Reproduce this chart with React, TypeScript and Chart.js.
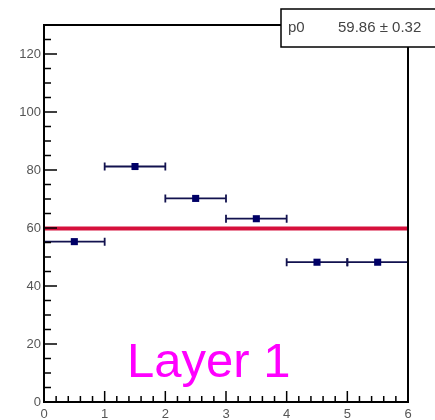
import { useEffect, useRef } from 'react';
import { Chart, registerables } from 'chart.js';

Chart.register(...registerables);

// ---- data ----
const binLow = [0, 1, 2, 3, 4, 5];
const binHigh = [1, 2, 3, 4, 5, 6];
const binValues = [55.3, 81.2, 70.2, 63.2, 48.2, 48.2];
const fitP0 = 59.86;
const fitRange = [0, 6];
const xTickValues = [0, 1, 2, 3, 4, 5, 6];
const yTickValues = [0, 20, 40, 60, 80, 100, 120];
const statsLabel = 'p0';
const statsValue = '59.86 ± 0.32';
const layerTitle = 'Layer 1';

const X_MIN = 0;
const X_MAX = 6;
const Y_MIN = 0;
const Y_MAX = 130;

const FONT = "'Liberation Sans', Arial, sans-serif";

const rootDecor = {
  id: 'rootDecor',
  beforeDraw(chart: any) {
    const ctx = chart.ctx;
    ctx.save();
    ctx.fillStyle = '#ffffff';
    ctx.fillRect(0, 0, chart.width, chart.height);
    ctx.restore();
  },
  beforeDatasetsDraw(chart: any) {
    const ctx = chart.ctx;
    const xs = chart.scales.x;
    const ys = chart.scales.y;
    ctx.save();
    ctx.strokeStyle = '#12124f';
    ctx.lineWidth = 1.8;
    for (let i = 0; i < binValues.length; i++) {
      const xl = xs.getPixelForValue(binLow[i]);
      const xh = xs.getPixelForValue(binHigh[i]);
      const y = ys.getPixelForValue(binValues[i]);
      ctx.beginPath();
      ctx.moveTo(xl, y);
      ctx.lineTo(xh, y);
      ctx.moveTo(xl, y - 4);
      ctx.lineTo(xl, y + 4);
      ctx.moveTo(xh, y - 4);
      ctx.lineTo(xh, y + 4);
      ctx.stroke();
    }
    ctx.restore();
  },
  afterDraw(chart: any) {
    const ctx = chart.ctx;
    const xs = chart.scales.x;
    const ys = chart.scales.y;
    const a = chart.chartArea;
    ctx.save();
    // frame
    ctx.strokeStyle = '#000000';
    ctx.lineWidth = 2;
    ctx.strokeRect(a.left, a.top, a.right - a.left, a.bottom - a.top);
    // y ticks (inward)
    ctx.lineWidth = 1.5;
    ctx.beginPath();
    for (let i = 0; i * 5 <= Y_MAX; i++) {
      const v = i * 5;
      const len = v % 20 === 0 ? 13 : 7;
      const py = ys.getPixelForValue(v);
      ctx.moveTo(a.left, py);
      ctx.lineTo(a.left + len, py);
    }
    // x ticks (inward)
    for (let i = 0; i <= 30; i++) {
      const v = i * 0.2;
      const len = i % 5 === 0 ? 11 : 6;
      const px = xs.getPixelForValue(v);
      ctx.moveTo(px, a.bottom);
      ctx.lineTo(px, a.bottom - len);
    }
    ctx.stroke();

    // stats box
    ctx.fillStyle = '#ffffff';
    ctx.fillRect(281, 9, 170, 38);
    ctx.strokeStyle = '#000000';
    ctx.lineWidth = 1.5;
    ctx.strokeRect(281, 9, 170, 38);
    ctx.fillStyle = '#444444';
    ctx.font = `15px ${FONT}`;
    ctx.textBaseline = 'middle';
    ctx.textAlign = 'left';
    ctx.fillText(statsLabel, 288, 28);
    ctx.fillText(statsValue, 338, 28);

    // layer title
    ctx.fillStyle = '#ff00ff';
    ctx.font = `49px ${FONT}`;
    ctx.textBaseline = 'alphabetic';
    ctx.fillText(layerTitle, 127, 377);
    ctx.restore();
  },
};

export default function App() {
  const ref = useRef<HTMLCanvasElement | null>(null);
  useEffect(() => {
    if (!ref.current) return;
    const chart = new Chart(ref.current, {
      type: 'scatter',
      data: {
        datasets: [
          {
            type: 'line',
            label: 'fit',
            data: [
              { x: fitRange[0], y: fitP0 },
              { x: fitRange[1], y: fitP0 },
            ],
            borderColor: '#d6103c',
            borderWidth: 4,
            pointRadius: 0,
            order: 1,
          } as any,
          {
            label: 'data',
            data: binValues.map((v, i) => ({ x: (binLow[i] + binHigh[i]) / 2, y: v })),
            pointStyle: 'rect',
            pointRadius: 5,
            backgroundColor: '#000066',
            borderColor: '#000066',
            borderWidth: 0,
            order: 0,
          },
        ],
      },
      options: {
        animation: false,
        responsive: false,
        events: [],
        layout: { padding: { left: 0, top: 25, right: 27, bottom: 0 } },
        plugins: { legend: { display: false }, tooltip: { enabled: false } },
        scales: {
          x: {
            type: 'linear',
            min: X_MIN,
            max: X_MAX,
            border: { display: false },
            grid: { display: false, drawTicks: false },
            afterBuildTicks: (s: any) => {
              s.ticks = xTickValues.map((v) => ({ value: v }));
            },
            afterFit: (s: any) => {
              s.height = 18;
            },
            ticks: {
              color: '#555555',
              font: { family: FONT, size: 13 },
              padding: 5,
              maxRotation: 0,
              autoSkip: false,
            },
          },
          y: {
            type: 'linear',
            min: Y_MIN,
            max: Y_MAX,
            border: { display: false },
            grid: { display: false, drawTicks: false },
            afterBuildTicks: (s: any) => {
              s.ticks = yTickValues.map((v) => ({ value: v }));
            },
            afterFit: (s: any) => {
              s.width = 44;
            },
            ticks: {
              color: '#555555',
              font: { family: FONT, size: 13 },
              padding: 3,
              autoSkip: false,
            },
          },
        },
      },
      plugins: [rootDecor],
    });
    return () => chart.destroy();
  }, []);
  return (
    <div style={{ position: 'fixed', left: 0, top: 0, width: 435, height: 420 }}>
      <canvas ref={ref} width={435} height={420} style={{ display: 'block' }} />
    </div>
  );
}
